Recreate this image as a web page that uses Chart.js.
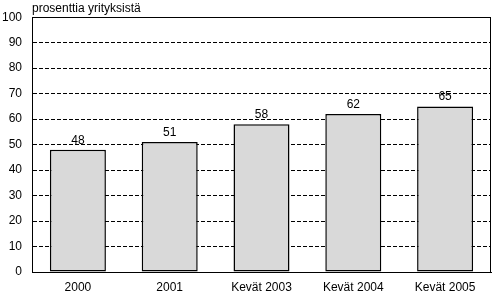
<!DOCTYPE html>
<html>
<head>
<meta charset="utf-8">
<script src="https://cdn.jsdelivr.net/npm/chart.js@4/dist/chart.umd.min.js"></script>
<style>
html,body{margin:0;padding:0;background:#fff;}
#wrap{width:493px;height:293px;position:relative;}
</style>
</head>
<body>
<div id="wrap"><canvas id="c" width="493" height="293"></canvas></div>
<script>
const categories = ["2000", "2001", "Kevät 2003", "Kevät 2004", "Kevät 2005"];
const values = [48, 51, 58, 62, 65];
const yTicks = [0, 10, 20, 30, 40, 50, 60, 70, 80, 90, 100];
const unitLabel = "prosenttia yrityksistä";

const FONT = "'Liberation Sans', Arial, sans-serif";

const framePlugin = {
  id: 'frame',
  afterDraw(chart) {
    const {ctx, chartArea: a} = chart;
    ctx.save();
    ctx.strokeStyle = '#000';
    ctx.lineWidth = 1;
    ctx.setLineDash([]);
    ctx.strokeRect(Math.round(a.left) + 0.5, Math.round(a.top) + 0.5, Math.round(a.right - a.left) - 1, Math.round(a.bottom - a.top));
    // unit label
    ctx.fillStyle = '#000';
    ctx.font = '12px ' + FONT;
    ctx.textAlign = 'left';
    ctx.textBaseline = 'alphabetic';
    ctx.fillText(unitLabel, a.left, 12);
    // value labels
    const meta = chart.getDatasetMeta(0);
    ctx.textAlign = 'center';
    meta.data.forEach((bar, i) => {
      ctx.fillText(String(chart.data.datasets[0].data[i]), bar.x, bar.y - 6);
    });
    ctx.restore();
  }
};

new Chart(document.getElementById('c'), {
  type: 'bar',
  data: {
    labels: categories,
    datasets: [{
      data: values,
      backgroundColor: '#d9d9d9',
      borderColor: '#000',
      borderWidth: 1.5,
      borderSkipped: false,
      barPercentage: 0.61,
      categoryPercentage: 1.0
    }]
  },
  options: {
    responsive: false,
    animation: false,
    devicePixelRatio: 1,
    layout: {padding: {top: 17, right: 2, left: 0, bottom: 0}},
    plugins: {legend: {display: false}, tooltip: {enabled: false}, title: {display: false}},
    scales: {
      x: {
        grid: {display: false, drawTicks: false},
        border: {display: true, color: '#000'},
        ticks: {color: '#000', font: {family: FONT, size: 12}, padding: 8, maxRotation: 0, autoSkip: false},
        afterFit(s) { s.height = 21; }
      },
      y: {
        min: 0, max: 100,
        afterBuildTicks(s) { s.ticks = yTicks.map(v => ({value: v})); },
        grid: {color: '#000', lineWidth: 1, drawTicks: false},
        border: {display: true, color: '#000', dash: [4, 2]},
        ticks: {color: '#000', font: {family: FONT, size: 12}, padding: 10},
        afterFit(s) { s.width = 32; }
      }
    }
  },
  plugins: [framePlugin]
});
</script>
</body>
</html>
